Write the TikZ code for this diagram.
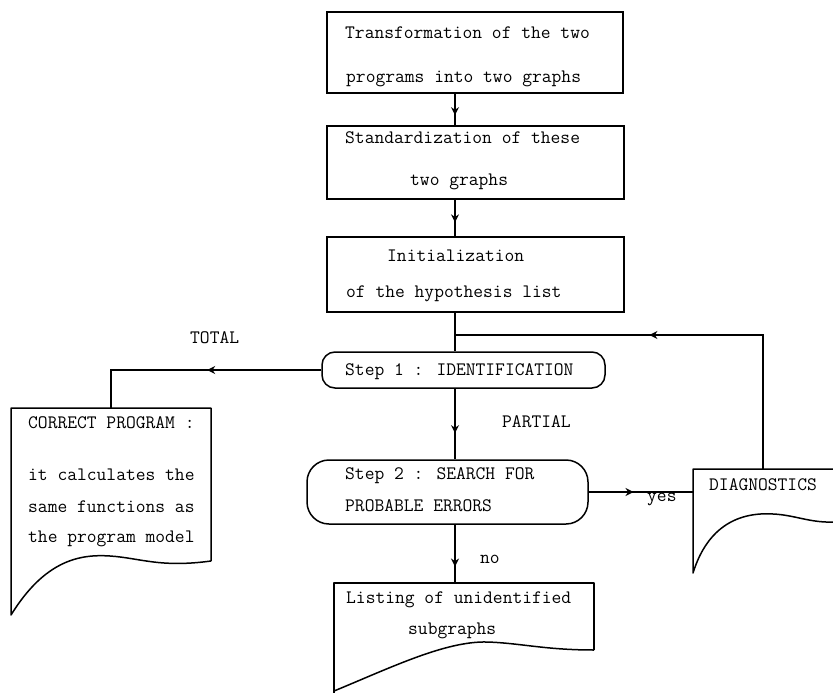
\documentclass[tikz,border=0pt]{standalone}
\usepackage{fontspec}
\usetikzlibrary{arrows.meta,decorations.markings,calc}
\begin{document}
\begin{tikzpicture}[x=1pt,y=-1pt,
  flow/.style={line width=1.5pt},
  procbox/.style={draw, line width=1.5pt, inner sep=0pt},
  stepbox/.style={draw, line width=1.5pt, inner sep=0pt},
  docarea/.style={inner sep=0pt},
  docline/.style={line width=1.5pt, line join=round},
  txt/.style={font=\ttfamily\fontsize{19}{22}\selectfont\addfontfeature{FakeBold=1.2},
    anchor=base west, inner sep=0pt},
  arrowat/.style={postaction={decorate},
    decoration={markings, mark=at position #1 with {\arrow{Stealth[length=8pt,width=8pt]}}}}]

\clip (0,0) rectangle (833,693);

% column of the main flow
\coordinate (colx) at (455,0);
\coordinate (loop) at (455,335);

% process boxes
\node[procbox, minimum width=296pt, minimum height=81pt] (box1) at (475,52.5) {};
\node[procbox, minimum width=297pt, minimum height=73pt] (box2) at (475.5,162.5) {};
\node[procbox, minimum width=297pt, minimum height=75pt] (box3) at (475.5,274.5) {};

% decision steps
\node[stepbox, rounded corners=13pt, minimum width=283pt, minimum height=36pt] (step1) at (463.5,370) {};
\node[stepbox, rounded corners=22pt, minimum width=281pt, minimum height=64pt] (step2) at (447.5,492) {};

% document areas
\node[docarea, minimum width=200pt, minimum height=207pt] (correct) at (111,511.5) {};
\node[docarea, minimum width=140pt, minimum height=104pt] (diag) at (763,521) {};
\node[docarea, minimum width=260pt, minimum height=110pt] (listing) at (464,638) {};

% document outlines
\draw[docline] (211,561) -- (211,408) -- (11,408) -- (11,615)
  .. controls (45,560) and (80,554) .. (110,556)
  .. controls (140,558) and (160,568) .. (211,561);
\draw[docline] (834,469) -- (693,469) -- (693,573)
  .. controls (708,525) and (740,512) .. (773,514)
  .. controls (795,515) and (810,523) .. (834,522);
\draw[docline] (594,650) -- (594,583) -- (334,583) -- (334,694);
\draw[docline] (334,691)
  .. controls (390,668) and (445,641) .. (487,642)
  .. controls (520,643) and (545,650) .. (594,650);

% texts
\node[txt] (t1a) at (345,39) {Transformation of the two};
\node[txt] (t1b) at (346,82) {programs into two graphs};
\node[txt] (t2a) at (345,143) {Standardization of these};
\node[txt] (t2b) at (410,185) {two graphs};
\node[txt] (t3a) at (387,261) {Initialization};
\node[txt] (t3b) at (346,297) {of the hypothesis list};
\node[txt] (s1) at (345,375) {Step 1 : IDENTIFICATION};
\node[txt] (s2a) at (345,479) {Step 2 : SEARCH FOR};
\node[txt] (s2b) at (345,511) {PROBABLE ERRORS};
\node[txt] (c1) at (28,428) {CORRECT PROGRAM :};
\node[txt] (c2) at (28,480) {it calculates the};
\node[txt] (c3) at (28,512) {same functions as};
\node[txt] (c4) at (28,542) {the program model};
\node[txt] (d1) at (709,490) {DIAGNOSTICS};
\node[txt] (l1) at (346,603) {Listing of unidentified};
\node[txt] (l2) at (408,634) {subgraphs};
\node[txt] (ltotal) at (190,343) {TOTAL};
\node[txt] (lpartial) at (502,427) {PARTIAL};
\node[txt] (lyes) at (647,501) {yes};
\node[txt] (lno) at (480,563) {no};

% connectors
\draw[flow, arrowat=0.68] (box1.south -| colx) -- (box2.north -| colx);
\draw[flow, arrowat=0.62] (box2.south -| colx) -- (box3.north -| colx);
\draw[flow] (box3.south -| colx) -- (step1.north -| colx);
\draw[flow, arrowat=0.56] (diag.north) |- (loop);
\draw[flow, arrowat=0.46] (step1.west) -| (correct.north);
\draw[flow, arrowat=0.63] (step1.south -| colx) -- (step2.north -| colx);
\draw[flow, arrowat=0.43] (step2.east) -- (step2.east -| diag.west);
\draw[flow, arrowat=0.72] (step2.south -| colx) -- (listing.north -| colx);
\end{tikzpicture}
\end{document}
